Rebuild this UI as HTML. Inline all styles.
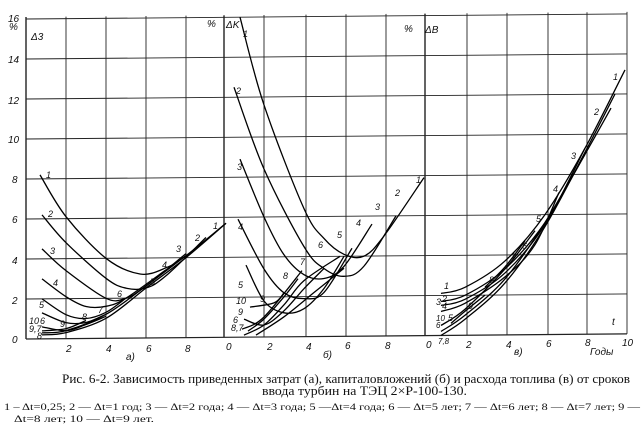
<!DOCTYPE html>
<html><head><meta charset="utf-8"><style>
html,body{margin:0;padding:0;background:#fff;}
svg{display:block;}
text{font-family:"Liberation Sans",sans-serif;font-style:italic;fill:#111;}
.cap{font-family:"Liberation Serif",serif;font-style:normal;}
</style></head><body>
<svg id="s" width="644" height="428" viewBox="0 0 644 428" xmlns="http://www.w3.org/2000/svg">
<g id="plot" transform="matrix(1,-0.0085,0,1,0,0.22)" stroke="#111" fill="none">
<g id="grid" stroke="#222" stroke-width="0.9"></g>
<g id="curves" stroke="#000" stroke-width="1.3"></g>
</g>
<g font-size="10">
<text x="8" y="22">16</text><text x="9" y="30">%</text>
<text x="8" y="63">14</text><text x="8" y="104">12</text><text x="8" y="143">10</text>
<text x="12" y="183">8</text><text x="12" y="223">6</text><text x="12" y="264">4</text>
<text x="12" y="304">2</text><text x="12" y="343">0</text>
<text x="31" y="40">Δ3</text>
<text x="207" y="27">%</text><text x="226" y="28">ΔK</text>
<text x="404" y="32">%</text><text x="425" y="33">ΔB</text>
<text x="66" y="352">2</text><text x="106" y="352">4</text><text x="146" y="352">6</text><text x="185" y="352">8</text><text x="226" y="350">0</text>
<text x="267" y="350">2</text><text x="306" y="350">4</text><text x="345" y="349">6</text><text x="385" y="349">8</text><text x="426" y="348">0</text>
<text x="438" y="344" font-size="8">7,8</text>
<text x="466" y="348">2</text><text x="506" y="348">4</text><text x="546" y="347">6</text><text x="585" y="346">8</text><text x="622" y="346">10</text>
<text x="126" y="360">а)</text><text x="323" y="358">б)</text><text x="514" y="355">в)</text><text x="590" y="355">Годы</text>
<text x="612" y="325">t</text>
<g font-size="9">
<text x="46" y="178">1</text><text x="48" y="217">2</text><text x="50" y="254">3</text><text x="53" y="286">4</text><text x="39" y="308">5</text>
<text x="29" y="324">10</text><text x="40" y="324">6</text><text x="29" y="332">9,7</text><text x="37" y="339">8</text><text x="60" y="327">9</text><text x="82" y="320">8</text><text x="98" y="313">7</text><text x="117" y="297">6</text>
<text x="150" y="285">5</text><text x="162" y="268">4</text><text x="176" y="252">3</text><text x="195" y="241">2</text><text x="213" y="229">1</text>
<text x="243" y="37">1</text><text x="236" y="94">2</text><text x="237" y="170">3</text><text x="238" y="230">4</text><text x="238" y="288">5</text>
<text x="236" y="304">10</text><text x="238" y="315">9</text><text x="233" y="323">6</text><text x="231" y="331">8,7</text><text x="260" y="302">9</text><text x="283" y="279">8</text><text x="300" y="265">7</text>
<text x="318" y="248">6</text><text x="337" y="238">5</text><text x="356" y="226">4</text><text x="375" y="210">3</text><text x="395" y="196">2</text><text x="416" y="183">1</text>
<text x="444" y="289">1</text><text x="442" y="302">2</text><text x="436" y="305">3</text><text x="442" y="309">4</text><text x="448" y="321">5</text>
<text x="436" y="321" font-size="8">10</text><text x="436" y="328" font-size="8">6</text><text x="468" y="309">9</text><text x="489" y="283">8</text><text x="511" y="260">7</text><text x="522" y="249">6</text>
<text x="536" y="222">5</text><text x="553" y="192">4</text><text x="571" y="159">3</text><text x="594" y="115">2</text><text x="613" y="80">1</text>
</g>
</g>
<text class="cap" x="62" y="383" font-size="12.5" textLength="568" lengthAdjust="spacingAndGlyphs">Рис. 6-2. Зависимость приведенных затрат (а), капиталовложений (б) и расхода топлива (в) от сроков</text>
<text class="cap" x="262" y="395" font-size="12.5" textLength="205" lengthAdjust="spacingAndGlyphs">ввода турбин на ТЭЦ 2×Р-100-130.</text>
<text class="cap" x="4" y="410" font-size="9.5" textLength="636" lengthAdjust="spacingAndGlyphs">1 – Δt=0,25;  2 — Δt=1  год;  3 — Δt=2  года;  4 — Δt=3  года;  5 —Δt=4  года;  6 — Δt=5  лет;  7 — Δt=6  лет;  8 — Δt=7  лет;  9 —</text>
<text class="cap" x="14" y="422" font-size="9.5" textLength="140" lengthAdjust="spacingAndGlyphs">Δt=8  лет;  10 — Δt=9  лет.</text>
</svg>
<script>
(function(){
var NS="http://www.w3.org/2000/svg";
var grid=document.getElementById("grid"),cv=document.getElementById("curves");
function ln(x1,y1,x2,y2,w){var l=document.createElementNS(NS,"line");l.setAttribute("x1",x1);l.setAttribute("y1",y1);l.setAttribute("x2",x2);l.setAttribute("y2",y2);if(w)l.setAttribute("stroke-width",w);grid.appendChild(l);}
for(var v=2;v<=16;v+=2){ln(26,339-20*v,627,339-20*v);}
ln(26,339,627,339,1.2);
var xs=[26,66,106,146,186,224,264,306,346,386,425,467,507,548,587,627];
xs.forEach(function(x,i){var w=(i==0||i==5||i==10)?1.4:0.9;ln(x,17,x,339,w);});
function P(o,pts){return pts.map(function(p){return [o+20*p[0],339-20*p[1]];});}
function spline(p){var d="M"+p[0][0].toFixed(1)+","+p[0][1].toFixed(1);
for(var i=0;i<p.length-1;i++){var p0=p[i-1]||p[i],p1=p[i],p2=p[i+1],p3=p[i+2]||p2;
d+=" C"+(p1[0]+(p2[0]-p0[0])/6).toFixed(1)+","+(p1[1]+(p2[1]-p0[1])/6).toFixed(1)+" "+(p2[0]-(p3[0]-p1[0])/6).toFixed(1)+","+(p2[1]-(p3[1]-p1[1])/6).toFixed(1)+" "+p2[0].toFixed(1)+","+p2[1].toFixed(1);}
return d;}
function C(o,pts){var e=document.createElementNS(NS,"path");e.setAttribute("d",spline(P(o,pts)));cv.appendChild(e);}
var a=26;
C(a,[[0.7,8.2],[2,6.1],[4,4.0],[5.7,3.2],[7,3.5],[8,4.1],[10,5.7]]);
C(a,[[0.8,6.2],[2,4.8],[4,3.0],[5,2.5],[6,2.5],[7,3.1],[9,5.0]]);
C(a,[[0.8,4.5],[2,3.4],[4,2.0],[5,2.0],[6,2.6],[8,4.2]]);
C(a,[[0.8,3.0],[2,2.1],[3,1.6],[4,1.6],[5,2.0],[7,3.4]]);
C(a,[[0.8,2.0],[2,1.2],[3,1.0],[4,1.3],[5,2.0]]);
C(a,[[0.8,1.3],[2,0.8],[3,0.8],[4,1.2]]);
C(a,[[0.8,0.6],[2,0.4],[3,0.7],[4,1.1]]);
C(a,[[0.8,0.4],[2,0.5],[3,0.9]]);
C(a,[[0.8,0.2],[2,0.3],[4,1.0],[6,2.5],[8,4.0],[10,5.7]]);
C(a,[[0.8,0.3],[2,0.4],[4,1.2],[6,2.6],[8,4.1]]);
var b=224;
C(b,[[0.8,16],[2,11.6],[4,6.4],[5,4.9],[6,4.1],[7,4.0],[8,5.0],[10,7.9]]);
C(b,[[0.5,12.5],[2,8.4],[4,4.5],[5,3.4],[6,3.0],[7,3.5],[8.6,6.0]]);
C(b,[[0.8,8.9],[2,6.0],[3,4.1],[4,3.1],[5,2.9],[6,3.5],[7.4,5.6]]);
C(b,[[0.7,5.9],[2,3.4],[3,2.2],[4,1.9],[5,2.2],[6.4,4.4]]);
C(b,[[1.1,3.6],[2,1.8],[3,1.2],[4,1.4],[5,2.4],[6,4.0]]);
C(b,[[1.0,0.9],[2,0.6],[3,1.3],[4,2.4],[5,3.4]]);
C(b,[[1.0,0.1],[2,0.6],[3,1.6],[4,2.8],[5.8,4.0]]);
C(b,[[1.2,0.3],[2,0.9],[3,2.0],[3.7,2.9]]);
C(b,[[1.3,1.5],[2.5,1.7],[3,2.2]]);
C(b,[[0.9,0.4],[2,1.0],[3.9,3.3]]);
C(b,[[1.6,0.1],[3,1.0],[4.5,2.2],[6,3.4]]);
var c=425;
C(c,[[0.8,2.1],[2,2.4],[4,3.7],[6,6.0],[8,9.3],[10,13.2]]);
C(c,[[0.8,1.7],[2,2.0],[4,3.3],[6,5.6],[8,9.0],[9.3,11.3]]);
C(c,[[0.8,1.5],[2,1.8],[4,3.1],[6,5.5],[8,9.3]]);
C(c,[[0.8,1.2],[2,1.6],[4,2.9],[5.5,4.5],[6.7,7.1]]);
C(c,[[0.8,0.5],[2,1.3],[4,3.3],[5.5,5.2]]);
C(c,[[0.8,0.2],[2,1.0],[4,2.8],[6,5.6],[8,9.0]]);
C(c,[[0.8,0.0],[2,0.8],[4,2.6],[6,5.4],[8,9.1],[9.5,12.0]]);
C(c,[[1.3,0.6],[2,1.2],[3,2.0]]);
C(c,[[3,2.4],[4,3.4],[5,4.7]]);
})();
</script>
</body></html>
